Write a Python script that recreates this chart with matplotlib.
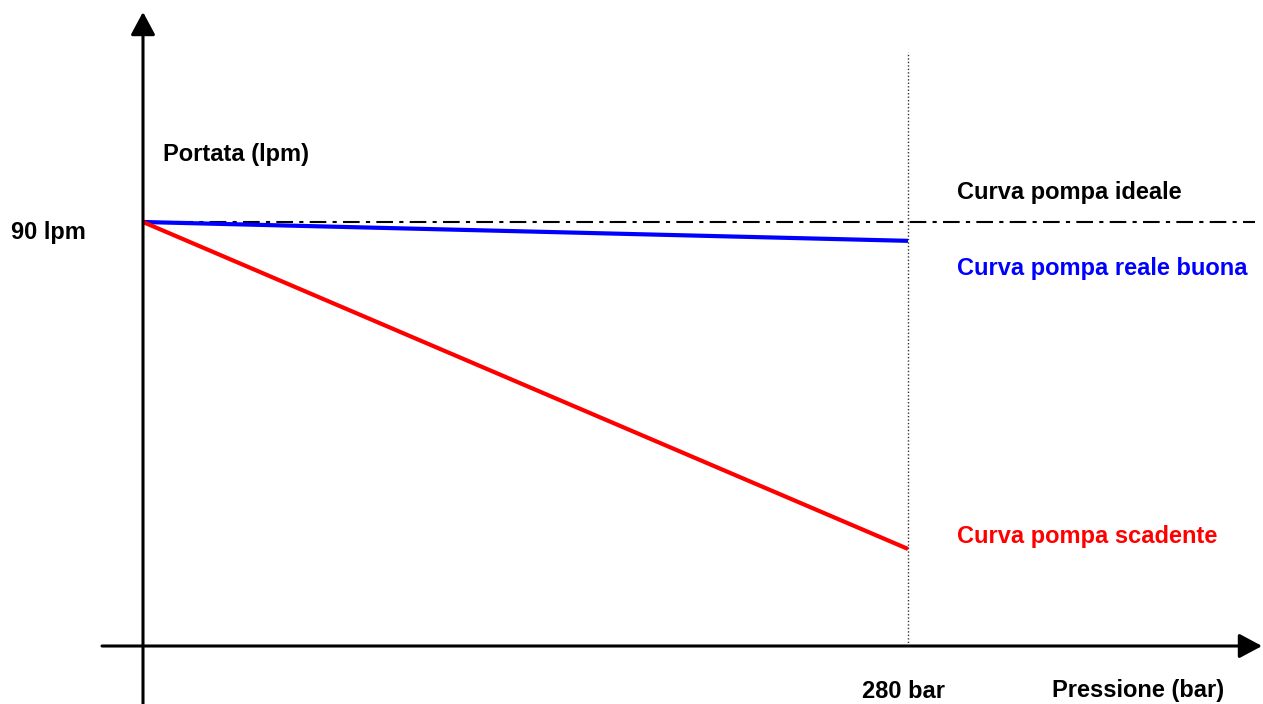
import numpy as np
import matplotlib.pyplot as plt

plt.rcParams['font.family'] = ['Liberation Sans', 'DejaVu Sans']

# dati (pressione in bar, portata in lpm)
p_ideale = [0, 407]
q_ideale = [90, 90]
p_reale = [0, 280]
q_buona = [90, 86]
q_scadente = [90, 20.6]
p_max = 280

px_bar = 765 / 280.0   # pixel per bar
px_lpm = 424 / 90.0    # pixel per lpm
x0, y0 = 143, 646      # origine in pixel

fig = plt.figure(figsize=(12.63, 7.04), dpi=100)
ax = fig.add_axes([0, 0, 1, 1])
ax.set_xlim(-x0 / px_bar, (1263 - x0) / px_bar)
ax.set_ylim((y0 - 704) / px_lpm, y0 / px_lpm)
ax.axis('off')

def bx(px):
    return (px - x0) / px_bar

def ly(py):
    return (y0 - py) / px_lpm

# assi con frecce
freccia = dict(arrowstyle='-|>,head_length=1.4,head_width=0.75',
               lw=2.2, color='black', shrinkA=0, shrinkB=0)
ax.annotate('', xy=(bx(1262), 0), xytext=(bx(102), 0), arrowprops=freccia)
ax.annotate('', xy=(0, ly(12)), xytext=(0, ly(704)), arrowprops=freccia)

# linea verticale a 280 bar
ax.plot([p_max, p_max], [0, ly(52)], color='#333333', lw=1, ls=(0, (1, 1.5)))

# curve
ax.plot(p_ideale, q_ideale, color='black', lw=1.5, ls=(0, (8, 3, 2, 3)))
ax.plot(p_reale, q_buona, color='#0000ff', lw=3, solid_capstyle='butt')
ax.plot(p_reale, q_scadente, color='#ff0000', lw=3, solid_capstyle='butt')

fs = 17
ax.text(bx(163), ly(155), 'Portata (lpm)', fontsize=fs, fontweight='bold', va='center')
ax.text(bx(11), ly(232), '90 lpm', fontsize=fs, fontweight='bold', va='center')
ax.text(bx(957), ly(192), 'Curva pompa ideale', fontsize=fs, fontweight='bold', va='center')
ax.text(bx(957), ly(269), 'Curva pompa reale buona', fontsize=fs, fontweight='bold',
        va='center', color='#0000ff')
ax.text(bx(957), ly(537), 'Curva pompa scadente', fontsize=fs, fontweight='bold',
        va='center', color='#ff0000')
ax.text(bx(862), ly(691), '280 bar', fontsize=fs, fontweight='bold', va='center')
ax.text(bx(1052), ly(691), 'Pressione (bar)', fontsize=fs, fontweight='bold', va='center')

fig.savefig('out.png', dpi=100)
